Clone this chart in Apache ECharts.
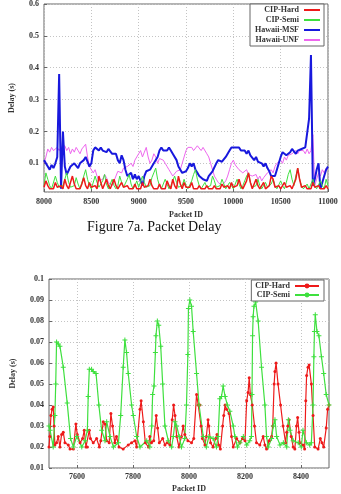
<!DOCTYPE html>
<html>
<head>
<meta charset="utf-8">
<script src="https://cdn.jsdelivr.net/npm/echarts@6/dist/echarts.min.js"></script>
<style>
html, body { margin: 0; padding: 0; background: #fff; }
#chart { width: 341px; height: 494px; }
</style>
</head>
<body>
<div id="chart"></div>
<script>
// Figure 7a: packet delay, packets 8000..11000 sampled every 20
const topStartId = 8000;
const topStep = 20;

const hardTop = [
  0.025, 0.045, 0.03, 0.02, 0.025, 0.02, 0.04, 0.025, 0.02, 0.03,
  0.02, 0.05, 0.03, 0.02, 0.025, 0.06, 0.035, 0.02, 0.025, 0.02,
  0.035, 0.055, 0.03, 0.02, 0.04, 0.025, 0.02, 0.03, 0.02, 0.06,
  0.04, 0.02, 0.025, 0.05, 0.03, 0.02, 0.025, 0.05, 0.03, 0.02,
  0.02, 0.04, 0.025, 0.02, 0.03, 0.02, 0.025, 0.02, 0.035, 0.02,
  0.025, 0.02, 0.04, 0.025, 0.02, 0.03, 0.05, 0.03, 0.02, 0.025,
  0.02, 0.035, 0.02, 0.025, 0.02, 0.045, 0.03, 0.02, 0.05, 0.03,
  0.02, 0.06, 0.035, 0.02, 0.04, 0.025, 0.02, 0.025, 0.04, 0.02,
  0.025, 0.02, 0.03, 0.02, 0.025, 0.02, 0.03, 0.02, 0.025, 0.02,
  0.03, 0.02, 0.025, 0.02, 0.035, 0.025, 0.02, 0.03, 0.02, 0.04,
  0.025, 0.02, 0.03, 0.05, 0.03, 0.02, 0.025, 0.045, 0.07, 0.04,
  0.02, 0.025, 0.05, 0.03, 0.02, 0.025, 0.04, 0.02, 0.025, 0.03,
  0.06, 0.05, 0.025, 0.02, 0.03, 0.02, 0.025, 0.04, 0.025, 0.02,
  0.03, 0.02, 0.025, 0.05, 0.085, 0.05, 0.025, 0.02, 0.03, 0.02,
  0.025, 0.02, 0.04, 0.025, 0.02, 0.03, 0.02, 0.025, 0.02, 0.03,
  0.02
];

const semiTop = [
  0.03, 0.07, 0.05, 0.03, 0.02, 0.025, 0.06, 0.04, 0.025, 0.02,
  0.03, 0.05, 0.07, 0.04, 0.025, 0.02, 0.03, 0.055, 0.035, 0.02,
  0.025, 0.06, 0.08, 0.05, 0.03, 0.02, 0.025, 0.06, 0.04, 0.025,
  0.02, 0.045, 0.065, 0.035, 0.02, 0.025, 0.05, 0.03, 0.02, 0.03,
  0.06, 0.04, 0.025, 0.02, 0.05, 0.065, 0.035, 0.02, 0.03, 0.045,
  0.025, 0.02, 0.06, 0.04, 0.025, 0.02, 0.03, 0.055, 0.07, 0.085,
  0.05, 0.03, 0.02, 0.025, 0.05, 0.035, 0.02, 0.03, 0.045, 0.06,
  0.04, 0.025, 0.02, 0.03, 0.05, 0.03, 0.02, 0.025, 0.045, 0.065,
  0.08, 0.05, 0.03, 0.02, 0.025, 0.04, 0.025, 0.02, 0.03, 0.06,
  0.045, 0.025, 0.02, 0.03, 0.05, 0.035, 0.02, 0.025, 0.04, 0.03,
  0.02, 0.025, 0.05, 0.035, 0.02, 0.03, 0.045, 0.06, 0.07, 0.04,
  0.025, 0.02, 0.03, 0.05, 0.03, 0.02, 0.025, 0.04, 0.025, 0.02,
  0.035, 0.05, 0.03, 0.02, 0.025, 0.045, 0.03, 0.02, 0.04, 0.065,
  0.08, 0.05, 0.03, 0.06, 0.085, 0.05, 0.03, 0.02, 0.025, 0.035,
  0.02, 0.025, 0.05, 0.03, 0.02, 0.025, 0.045, 0.03, 0.02, 0.05,
  0.03
];

const msfTop = [
  0.11, 0.105, 0.09, 0.08, 0.095, 0.085, 0.1, 0.12, 0.38, 0.02,
  0.2, 0.09, 0.065, 0.07, 0.09, 0.085, 0.1, 0.095, 0.085, 0.1,
  0.105, 0.11, 0.12, 0.115, 0.09, 0.1, 0.14, 0.15, 0.145, 0.14,
  0.15, 0.14, 0.145, 0.135, 0.145, 0.14, 0.13, 0.135, 0.13, 0.11,
  0.1, 0.125, 0.11, 0.08, 0.06, 0.055, 0.07, 0.05, 0.065, 0.05,
  0.06, 0.045, 0.03, 0.06, 0.075, 0.07, 0.08, 0.09, 0.1, 0.095,
  0.12, 0.14, 0.15, 0.14, 0.145, 0.14, 0.15, 0.14, 0.13, 0.125,
  0.11, 0.09, 0.08, 0.07, 0.065, 0.075, 0.085, 0.1, 0.09, 0.1,
  0.08, 0.07, 0.06, 0.065, 0.05, 0.055, 0.045, 0.06, 0.065, 0.075,
  0.08, 0.1, 0.11, 0.115, 0.105, 0.1, 0.12, 0.13, 0.14, 0.15,
  0.155, 0.15, 0.145, 0.15, 0.14, 0.145, 0.14, 0.13, 0.14, 0.125,
  0.13, 0.11, 0.12, 0.105, 0.11, 0.1, 0.09, 0.1, 0.085, 0.075,
  0.06, 0.055, 0.06, 0.08, 0.1, 0.12, 0.135, 0.13, 0.125, 0.12,
  0.135, 0.145, 0.15, 0.13, 0.14, 0.135, 0.145, 0.14, 0.15, 0.15,
  0.24, 0.44, 0.03, 0.05, 0.08, 0.1, 0.02, 0.04, 0.06, 0.08,
  0.09
];

const unfTop = [
  0.1, 0.12, 0.145, 0.135, 0.15, 0.14, 0.145, 0.15, 0.14, 0.15,
  0.145, 0.155, 0.14, 0.15, 0.13, 0.145, 0.135, 0.15, 0.14, 0.13,
  0.145, 0.15, 0.16, 0.12, 0.09, 0.085, 0.07, 0.08, 0.06, 0.045,
  0.04, 0.05, 0.065, 0.055, 0.04, 0.035, 0.03, 0.045, 0.06, 0.075,
  0.08, 0.07, 0.085, 0.08, 0.09, 0.085, 0.1, 0.09, 0.11, 0.12,
  0.13, 0.14, 0.12, 0.135, 0.15, 0.12, 0.1, 0.11, 0.13, 0.12,
  0.1, 0.115, 0.12, 0.11, 0.1, 0.09, 0.08, 0.07, 0.06, 0.065,
  0.075, 0.07, 0.08, 0.1, 0.12, 0.14, 0.15, 0.145, 0.15, 0.14,
  0.145, 0.155, 0.15, 0.14, 0.15, 0.145, 0.13, 0.12, 0.1, 0.08,
  0.06, 0.05, 0.04, 0.035, 0.03, 0.035, 0.045, 0.06, 0.08, 0.1,
  0.11, 0.095, 0.09, 0.08, 0.085, 0.07, 0.075, 0.08, 0.065, 0.07,
  0.06, 0.055, 0.065, 0.05, 0.06, 0.045, 0.055, 0.06, 0.07, 0.075,
  0.08, 0.07, 0.09, 0.1, 0.095, 0.11, 0.1, 0.12, 0.11, 0.125,
  0.12, 0.13, 0.125, 0.14, 0.13, 0.14, 0.135, 0.14, 0.13, 0.145,
  0.13, 0.14, 0.19, 0.03, 0.05, 0.07, 0.06, 0.08, 0.07, 0.085,
  0.08
];

// second plot: packets 7500..8500, CIP only
const hardIds = [
  7500, 7503, 7507, 7511, 7515, 7518, 7521, 7527, 7533, 7539, 7545, 7551, 7557, 7569, 7575, 7587,
  7596, 7601, 7611, 7620, 7626, 7632, 7637, 7644, 7648, 7658, 7670, 7680, 7685, 7694, 7700, 7706,
  7715, 7721, 7727, 7735, 7741, 7750, 7765, 7783, 7795, 7807, 7813, 7825, 7829, 7837, 7844, 7855,
  7860, 7866, 7874, 7883, 7888, 7894, 7906, 7914, 7922, 7932, 7940, 7945, 7950, 7956, 7964, 7973,
  7979, 7985, 7996, 8009, 8017, 8027, 8033, 8039, 8043, 8048, 8057, 8062, 8068, 8071, 8077, 8086,
  8095, 8100, 8106, 8112, 8120, 8124, 8129, 8134, 8143, 8152, 8158, 8170, 8182, 8191, 8200, 8206,
  8211, 8215, 8219, 8226, 8234, 8241, 8253, 8265, 8271, 8277, 8286, 8295, 8299, 8304, 8307, 8311,
  8318, 8327, 8336, 8345, 8349, 8353, 8357, 8365, 8372, 8378, 8384, 8388, 8393, 8396, 8407, 8413,
  8417, 8420, 8425, 8429, 8437, 8443, 8449, 8461, 8469, 8475, 8481, 8490, 8495, 8500
];
const hardDelay = [
  0.02, 0.025, 0.035, 0.038, 0.039, 0.03, 0.021, 0.022, 0.025, 0.02, 0.026, 0.027, 0.022, 0.021, 0.019, 0.019,
  0.031, 0.026, 0.022, 0.024, 0.028, 0.02, 0.02, 0.028, 0.024, 0.022, 0.024, 0.02, 0.023, 0.032, 0.031, 0.023,
  0.022, 0.036, 0.03, 0.022, 0.025, 0.02, 0.019, 0.021, 0.022, 0.023, 0.02, 0.038, 0.042, 0.032, 0.022, 0.02,
  0.025, 0.022, 0.023, 0.035, 0.029, 0.022, 0.024, 0.021, 0.022, 0.021, 0.033, 0.04, 0.035, 0.025, 0.02, 0.025,
  0.03, 0.026, 0.023, 0.022, 0.024, 0.045, 0.04, 0.04, 0.03, 0.024, 0.021, 0.025, 0.033, 0.03, 0.022, 0.02,
  0.024, 0.026, 0.021, 0.019, 0.03, 0.035, 0.04, 0.038, 0.036, 0.025, 0.02, 0.024, 0.022, 0.024, 0.023, 0.042,
  0.046, 0.053, 0.045, 0.04, 0.03, 0.022, 0.021, 0.025, 0.021, 0.019, 0.023, 0.025, 0.03, 0.05, 0.056, 0.06,
  0.05, 0.04, 0.03, 0.022, 0.027, 0.03, 0.033, 0.025, 0.02, 0.019, 0.03, 0.034, 0.027, 0.022, 0.021, 0.019,
  0.042, 0.054, 0.058, 0.059, 0.05, 0.035, 0.02, 0.019, 0.024, 0.022, 0.02, 0.029, 0.038, 0.04
];

const semiIds = [
  7500, 7504, 7515, 7521, 7524, 7527, 7533, 7539, 7551, 7565, 7577, 7587, 7599, 7617, 7629, 7637,
  7640, 7644, 7652, 7658, 7668, 7678, 7688, 7700, 7706, 7718, 7730, 7748, 7756, 7765, 7771, 7777,
  7783, 7795, 7801, 7813, 7825, 7849, 7860, 7867, 7870, 7875, 7880, 7882, 7887, 7892, 7899, 7906,
  7914, 7926, 7938, 7944, 7950, 7956, 7965, 7973, 7985, 7991, 7996, 7998, 8003, 8009, 8015, 8027,
  8036, 8051, 8062, 8071, 8086, 8098, 8104, 8110, 8116, 8122, 8129, 8137, 8146, 8158, 8164, 8173,
  8182, 8194, 8206, 8217, 8223, 8225, 8227, 8229, 8232, 8238, 8247, 8259, 8271, 8277, 8283, 8295,
  8301, 8307, 8313, 8325, 8337, 8349, 8355, 8361, 8372, 8390, 8401, 8407, 8419, 8431, 8437, 8443,
  8446, 8448, 8451, 8457, 8464, 8473, 8481, 8490, 8500
];
const semiDelay = [
  0.03, 0.028, 0.02, 0.035, 0.05, 0.07, 0.069, 0.068, 0.058, 0.041, 0.024, 0.02, 0.025, 0.02, 0.023, 0.028,
  0.044, 0.057, 0.057, 0.056, 0.055, 0.04, 0.028, 0.023, 0.032, 0.025, 0.02, 0.022, 0.035, 0.058, 0.071, 0.065,
  0.055, 0.04, 0.035, 0.025, 0.02, 0.023, 0.02, 0.03, 0.045, 0.049, 0.065, 0.073, 0.08, 0.078, 0.068, 0.05,
  0.03, 0.023, 0.02, 0.025, 0.032, 0.03, 0.025, 0.02, 0.024, 0.04, 0.064, 0.086, 0.09, 0.087, 0.075, 0.055,
  0.04, 0.025, 0.02, 0.025, 0.024, 0.02, 0.025, 0.043, 0.044, 0.049, 0.044, 0.04, 0.037, 0.03, 0.025, 0.02,
  0.022, 0.025, 0.021, 0.023, 0.025, 0.045, 0.073, 0.082, 0.087, 0.089, 0.08, 0.058, 0.04, 0.025, 0.02, 0.024,
  0.03, 0.033, 0.025, 0.021, 0.022, 0.02, 0.033, 0.028, 0.023, 0.022, 0.02, 0.028, 0.022, 0.021, 0.022, 0.04,
  0.063, 0.075, 0.083, 0.075, 0.073, 0.063, 0.055, 0.045, 0.04
];
const bottomXTicks = [7600, 7800, 8000, 8200, 8400];

const RED = '#ee1a1a';
const GREEN = '#3ee03e';
const BLUE = '#1818dd';
const PINK = '#ee66ee';
const serif = 'Liberation Serif';
const tickFont = { fontFamily: serif, fontSize: 8, fontWeight: 'bold', color: '#333' };
const nameFont = { fontFamily: serif, fontSize: 8, fontWeight: 'bold', color: '#333' };
const gridLine = { lineStyle: { color: '#c4c4c4', type: [1, 2], width: 1 } };
const inTick = { inside: true, length: 3, lineStyle: { color: '#666' } };
const plusPath = 'path://M4,0h2v4h4v2h-4v4h-2v-4h-4v-2h4z';
const plainNum = v => String(v);

const sampled = vals => vals.map((v, i) => [topStartId + i * topStep, v]);
const zip = (ids, vals) => ids.map((id, i) => [id, vals[i]]);
// legend of the upper plot shows plain line swatches
const lineKey = name => ({ name: name, icon: 'rect' });

const chart = echarts.init(document.getElementById('chart'));

chart.setOption({
  animation: false,
  backgroundColor: '#fff',
  title: {
    text: 'Figure 7a. Packet Delay',
    left: 87, top: 220, padding: 0,
    textStyle: { fontFamily: serif, fontSize: 14, fontWeight: 'normal', color: '#111' }
  },
  grid: [
    { left: 44, top: 4, width: 284, height: 188, show: true, borderColor: '#666', borderWidth: 1 },
    { left: 49, top: 279, width: 280, height: 189, show: true, borderColor: '#666', borderWidth: 1 }
  ],
  legend: [
    {
      data: ['CIP-Hard', 'CIP-Semi', 'Hawaii-MSF', 'Hawaii-UNF'].map(lineKey),
      orient: 'vertical', align: 'right', right: 17, top: 4,
      itemWidth: 16, itemHeight: 2, itemGap: 2, padding: [2, 4, 2, 5],
      borderColor: '#666', borderWidth: 1, backgroundColor: '#fff',
      textStyle: tickFont, selectedMode: false
    },
    {
      data: ['CIP-Hard', 'CIP-Semi'],
      orient: 'vertical', align: 'right', right: 17, top: 280,
      itemWidth: 24, itemHeight: 6, itemGap: 1, padding: [2, 4, 2, 4],
      borderColor: '#666', borderWidth: 1, backgroundColor: '#fff',
      textStyle: tickFont, selectedMode: false
    }
  ],
  xAxis: [
    {
      gridIndex: 0, type: 'value', min: 8000, max: 11000, interval: 500,
      axisLine: { show: false }, axisTick: inTick,
      axisLabel: Object.assign({ margin: 6, formatter: plainNum }, tickFont),
      splitLine: gridLine,
      name: 'Packet ID', nameLocation: 'middle', nameGap: 19, nameTextStyle: nameFont
    },
    {
      gridIndex: 1, type: 'value', min: 7500, max: 8500,
      axisLine: { show: false },
      axisTick: Object.assign({ customValues: bottomXTicks }, inTick),
      axisLabel: Object.assign({ margin: 5, customValues: bottomXTicks, formatter: plainNum }, tickFont),
      splitLine: gridLine,
      name: 'Packet ID', nameLocation: 'middle', nameGap: 17, nameTextStyle: nameFont
    }
  ],
  yAxis: [
    {
      gridIndex: 0, type: 'value', min: 0.01, max: 0.6, splitNumber: 6,
      axisLine: { show: false }, axisTick: inTick,
      axisLabel: Object.assign({ margin: 5, showMinLabel: false }, tickFont),
      splitLine: gridLine,
      name: 'Delay (s)', nameLocation: 'middle', nameGap: 28, nameTextStyle: nameFont
    },
    {
      gridIndex: 1, type: 'value', min: 0.01, max: 0.1, interval: 0.01,
      axisLine: { show: false }, axisTick: inTick,
      axisLabel: Object.assign({ margin: 5 }, tickFont),
      splitLine: gridLine,
      name: 'Delay (s)', nameLocation: 'middle', nameGap: 32, nameTextStyle: nameFont
    }
  ],
  series: [
    {
      name: 'Hawaii-UNF', type: 'line', xAxisIndex: 0, yAxisIndex: 0,
      data: sampled(unfTop), symbol: 'none',
      lineStyle: { color: PINK, width: 1 }, itemStyle: { color: PINK }
    },
    {
      name: 'Hawaii-MSF', type: 'line', xAxisIndex: 0, yAxisIndex: 0,
      data: sampled(msfTop), symbol: 'none',
      lineStyle: { color: BLUE, width: 2 }, itemStyle: { color: BLUE }
    },
    {
      name: 'CIP-Semi', type: 'line', xAxisIndex: 0, yAxisIndex: 0,
      data: sampled(semiTop), symbol: 'none',
      lineStyle: { color: GREEN, width: 1 }, itemStyle: { color: GREEN }
    },
    {
      name: 'CIP-Hard', type: 'line', xAxisIndex: 0, yAxisIndex: 0,
      data: sampled(hardTop), symbol: 'none',
      lineStyle: { color: RED, width: 1.5 }, itemStyle: { color: RED }
    },
    {
      name: 'CIP-Hard', type: 'line', xAxisIndex: 1, yAxisIndex: 1,
      data: zip(hardIds, hardDelay), symbol: 'circle', symbolSize: 3,
      lineStyle: { color: RED, width: 1.2 }, itemStyle: { color: RED }
    },
    {
      name: 'CIP-Semi', type: 'line', xAxisIndex: 1, yAxisIndex: 1,
      data: zip(semiIds, semiDelay), symbol: plusPath, symbolSize: 5,
      lineStyle: { color: GREEN, width: 1.2 }, itemStyle: { color: GREEN }
    }
  ]
});
</script>
</body>
</html>
